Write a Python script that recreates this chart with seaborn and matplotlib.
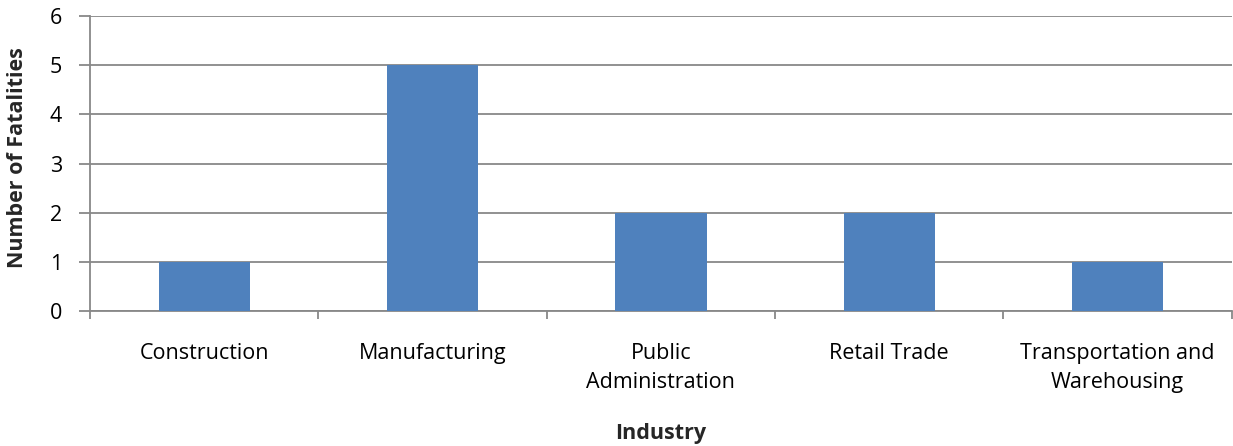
import matplotlib
matplotlib.use("Agg")
import matplotlib.pyplot as plt
import seaborn as sns
import pandas as pd
import numpy as np

industries = ["Construction", "Manufacturing", "Public\nAdministration",
              "Retail Trade", "Transportation and\nWarehousing"]
fatalities = [1, 5, 2, 2, 1]

sns.set_theme(style="white")
plt.rcParams["font.family"] = ["Open Sans", "DejaVu Sans"]

df = pd.DataFrame({"Industry": industries, "Fatalities": fatalities})

fig = plt.figure(figsize=(12.33, 4.46), dpi=100)
ax = fig.add_axes([0.073, 0.3027, 0.926, 0.6613])

grid_color = "#888888"
sns.barplot(data=df, x="Industry", y="Fatalities", color="#4F81BD",
            width=0.4, saturation=1, linewidth=0, ax=ax, zorder=3)

ax.set_ylim(0, 6)
ax.set_xlim(-0.5, len(industries) - 0.5)
ax.set_yticks(range(0, 7))
ax.yaxis.grid(True, color=grid_color, linewidth=1.3, zorder=0)
ax.set_axisbelow(True)

for side in ["top", "right"]:
    ax.spines[side].set_visible(False)
for side in ["left", "bottom"]:
    ax.spines[side].set_color(grid_color)
    ax.spines[side].set_linewidth(1.3)

# category boundary ticks on the x axis
ax.set_xticks(np.arange(-0.5, len(industries)), minor=True)
ax.tick_params(axis="x", which="minor", bottom=True, length=6,
               color=grid_color, width=1.3)
ax.tick_params(axis="x", which="major", bottom=False, length=0, pad=23,
               labelsize=15.5, labelcolor="#000000")
ax.tick_params(axis="y", left=True, length=8, color=grid_color, width=1.3,
               pad=12, labelsize=15.5, labelcolor="#000000")
for lbl in ax.get_xticklabels():
    lbl.set_horizontalalignment("center")
    lbl.set_linespacing(1.5)

ax.set_xlabel("Industry", fontsize=15.5, fontweight="bold", labelpad=22)
ax.set_ylabel("Number of Fatalities", fontsize=15.5, fontweight="bold")
ax.yaxis.set_label_coords(-0.054, 0.52)

fig.savefig("out.png", dpi=100)
